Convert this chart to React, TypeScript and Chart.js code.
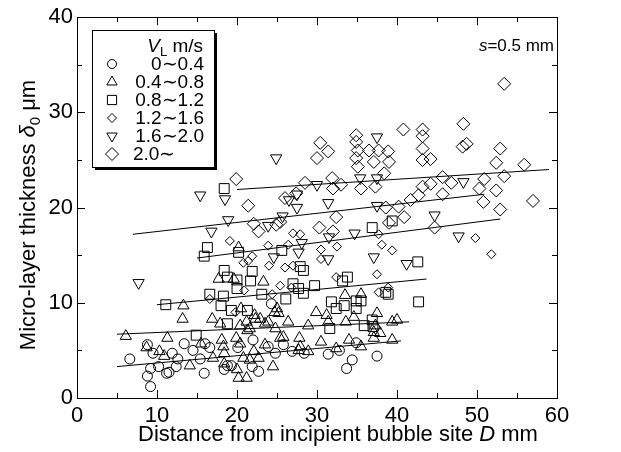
import React, { useEffect, useRef } from 'react';
import { Chart, registerables } from 'chart.js';

Chart.register(...registerables);

// ---------- data ----------
const xTickValues = [0, 10, 20, 30, 40, 50, 60];
const yTickValues = [0, 10, 20, 30, 40];
const seriesLabels = ['0∼0.4', '0.4∼0.8', '0.8∼1.2', '1.2∼1.6', '1.6∼2.0', '2.0∼'];

// V_L 0~0.4 (circles)
const circlePts: number[][] = [
  [6.6, 4.1], [8.8, 5.6], [9.5, 4.7], [9.2, 3.1], [8.8, 2.3], [9.2, 1.2], [10.2, 3.3], [11.2, 2.6],
  [11.5, 2.7], [11.9, 4.7], [12.6, 4.1], [12.4, 3.3], [13.4, 5.7], [14.5, 5.0], [15.4, 4.1], [15.9, 2.6],
  [16.0, 5.7], [16.6, 5.3], [18.4, 3.0], [19.3, 3.4], [18.8, 3.4], [20.1, 5.3], [22.0, 6.1], [21.9, 3.3],
  [22.7, 2.8], [24.3, 9.9], [23.9, 5.4], [24.8, 4.7], [25.8, 5.6], [26.9, 4.9], [28.4, 4.7], [31.4, 4.6],
  [32.8, 5.0], [34.9, 5.8], [34.4, 4.0], [33.7, 3.1], [37.5, 4.4],
];

// V_L 0.4~0.8 (triangles up)
const trianglePts: number[][] = [
  [6.1, 6.5], [8.7, 5.3], [10.3, 4.9], [10.9, 4.4], [11.3, 6.3], [13.2, 8.3], [13.3, 9.7], [14.1, 3.4],
  [15.5, 5.7], [16.9, 8.3], [17.0, 4.2], [17.7, 12.5], [17.9, 7.8], [18.1, 6.1], [18.3, 5.4], [18.4, 4.7],
  [18.4, 3.6], [19.6, 12.5], [19.9, 6.3], [20.0, 3.0], [20.2, 2.1], [21.2, 2.1], [20.2, 15.8], [20.4, 7.6],
  [21.2, 8.0], [21.6, 7.3], [22.3, 8.3], [22.9, 8.3], [22.1, 4.9], [20.8, 4.2], [21.6, 4.0], [22.7, 4.2],
  [24.5, 3.3], [23.5, 7.8], [23.9, 8.0], [24.7, 9.0], [25.2, 8.9], [24.8, 7.3], [25.4, 6.3], [23.5, 5.6],
  [26.4, 8.0], [27.8, 6.3], [27.9, 5.4], [28.9, 4.9], [28.9, 7.6], [29.9, 9.0], [30.5, 5.9], [31.2, 8.7],
  [31.4, 8.0], [22.2, 8.7], [25.0, 9.4], [20.4, 5.7], [20.5, 9.4], [21.3, 7.1], [23.3, 12.2], [25.8, 6.4],
  [27.7, 5.0], [33.5, 10.8], [35.5, 10.9], [32.4, 5.2], [34.0, 6.1], [35.5, 5.4], [37.1, 6.3], [37.1, 6.9],
  [37.3, 7.6], [34.6, 8.5], [33.6, 8.0], [39.4, 8.0], [40.0, 8.2], [39.4, 6.1], [37.5, 8.9], [37.9, 6.8],
];

// V_L 0.8~1.2 (squares)
const squarePts: number[][] = [
  [11.1, 9.8], [14.9, 6.6], [16.3, 15.8], [15.9, 14.9], [16.6, 10.9], [18.0, 9.7], [18.3, 10.7], [18.4, 13.4],
  [18.8, 12.7], [18.8, 7.8], [19.3, 9.2], [18.4, 22.0], [20.0, 12.4], [20.0, 11.5], [20.2, 15.3], [21.9, 13.3],
  [21.7, 12.3], [21.3, 9.2], [23.1, 10.9], [25.6, 15.5], [26.1, 10.4], [27.0, 12.0], [27.7, 11.5], [28.3, 11.0],
  [27.9, 13.8], [28.3, 13.4], [29.7, 11.8], [31.8, 10.1], [32.4, 9.4], [33.4, 9.7], [33.2, 12.3], [33.8, 12.7],
  [34.9, 10.2], [35.5, 10.2], [34.9, 9.4], [31.6, 7.3], [35.9, 7.6], [36.9, 8.2], [37.0, 7.5], [36.9, 17.9],
  [39.4, 18.6], [38.6, 11.1], [38.9, 10.9], [42.6, 14.3], [42.7, 10.1],
];

// V_L 1.2~1.6 (small diamonds)
const smallDiamondPts: number[][] = [
  [16.6, 10.4], [19.8, 9.0], [19.1, 16.5], [20.8, 14.2], [21.9, 14.9], [21.4, 14.4], [27.0, 17.3], [27.9, 17.2],
  [37.7, 17.2], [38.1, 16.1], [39.4, 15.5], [23.9, 16.0], [26.4, 16.1], [30.5, 15.6], [32.5, 15.9], [24.0, 13.9],
  [26.0, 13.7], [27.0, 13.9], [30.5, 14.6], [37.5, 13.0], [32.4, 12.7], [25.4, 11.8], [26.8, 11.6], [20.9, 11.3],
  [24.4, 10.9], [37.7, 11.1], [38.9, 11.6], [49.8, 16.8], [51.8, 15.1],
];

// V_L 1.6~2.0 (triangles down)
const downTrianglePts: number[][] = [
  [7.7, 12.1], [15.4, 21.3], [16.8, 17.5], [18.5, 20.9], [18.9, 18.7], [23.9, 18.1], [24.6, 14.8], [24.9, 25.2],
  [25.7, 19.1], [26.5, 20.8], [27.5, 21.4], [27.5, 20.0], [27.7, 15.3], [28.1, 16.3], [30.0, 22.4], [31.4, 20.5],
  [31.4, 14.6], [31.5, 16.9], [34.7, 17.3], [35.4, 23.1], [37.1, 14.8], [37.5, 20.2], [37.5, 23.1], [37.5, 27.4],
  [41.2, 14.1], [44.7, 19.2], [47.7, 17.0], [48.3, 22.7],
];

// V_L 2.0~ (large diamonds)
const largeDiamondPts: number[][] = [
  [19.9, 23.0], [21.4, 20.2], [22.1, 18.3], [22.7, 17.5], [24.9, 18.2], [25.4, 18.5], [26.0, 21.0], [27.4, 21.5],
  [28.5, 22.6], [30.4, 26.8], [30.0, 25.2], [31.4, 25.9], [30.3, 17.9], [32.0, 17.5], [31.9, 23.1], [32.0, 22.0],
  [33.0, 22.4], [32.4, 19.0], [34.9, 27.6], [34.9, 26.9], [35.1, 26.0], [34.9, 25.2], [35.1, 24.3], [35.5, 22.0],
  [36.5, 26.0], [37.7, 26.0], [37.1, 24.8], [38.4, 23.6], [37.3, 22.2], [38.9, 25.9], [39.0, 24.8], [38.6, 20.0],
  [39.0, 18.4], [40.2, 20.1], [40.8, 28.2], [40.9, 19.0], [41.7, 20.8], [42.7, 21.3], [43.2, 28.2], [43.2, 27.5],
  [43.2, 26.2], [43.2, 25.0], [44.2, 25.1], [43.2, 22.2], [44.2, 22.5], [45.7, 23.2], [46.8, 22.6], [45.7, 21.4],
  [44.7, 17.9], [48.3, 28.8], [48.2, 26.4], [48.7, 26.7], [50.3, 22.0], [50.9, 23.0], [50.8, 20.6], [52.4, 24.7],
  [52.4, 21.8], [52.9, 26.2], [52.9, 19.8], [53.4, 23.3], [53.4, 33.0], [55.9, 24.5], [57.0, 20.7],
];

// fitted lines (end points) for each group
const fitCircle: number[][] = [[5.0, 3.3], [40.5, 6.0]];
const fitTriangle: number[][] = [[5.0, 6.7], [41.5, 8.0]];
const fitSquare: number[][] = [[10.0, 9.8], [43.7, 12.5]];
const fitSmallDiamond: number[][] = [[15.0, 14.7], [52.9, 18.8]];
const fitDownTriangle: number[][] = [[7.0, 17.2], [50.9, 21.4]];
const fitLargeDiamond: number[][] = [[20.0, 21.9], [59.0, 24.0]];

// ---------- drawing helpers ----------
const FONT = "'Liberation Sans', Arial, Helvetica, sans-serif";
const toXY = (p: number[]) => ({ x: p[0], y: p[1] });

type Seg = { t: string; f: string; dy?: number };

function segWidth(ctx: CanvasRenderingContext2D, segs: Seg[]) {
  let w = 0;
  for (const s of segs) {
    ctx.font = s.f;
    w += ctx.measureText(s.t).width;
  }
  return w;
}
function drawSegs(ctx: CanvasRenderingContext2D, segs: Seg[], x: number, y: number) {
  let cx = x;
  for (const s of segs) {
    ctx.font = s.f;
    ctx.fillText(s.t, cx, y + (s.dy || 0));
    cx += ctx.measureText(s.t).width;
  }
}

function drawMarker(ctx: CanvasRenderingContext2D, kind: string, x: number, y: number, r: number) {
  ctx.beginPath();
  if (kind === 'circle') {
    ctx.arc(x, y, r, 0, Math.PI * 2);
  } else if (kind === 'triangle' || kind === 'down') {
    const s = kind === 'down' ? -1 : 1;
    ctx.moveTo(x, y - s * r);
    ctx.lineTo(x + 0.866 * r, y + s * 0.5 * r);
    ctx.lineTo(x - 0.866 * r, y + s * 0.5 * r);
    ctx.closePath();
  } else if (kind === 'rect') {
    const h = r * Math.SQRT1_2;
    ctx.rect(x - h, y - h, 2 * h, 2 * h);
  } else if (kind === 'diamond') {
    ctx.moveTo(x - r, y);
    ctx.lineTo(x, y - r);
    ctx.lineTo(x + r, y);
    ctx.lineTo(x, y + r);
    ctx.closePath();
  }
  ctx.stroke();
}

const legendKinds: [string, number][] = [
  ['circle', 4.5], ['triangle', 6], ['rect', 6.5], ['diamond', 4.5], ['down', 6], ['diamond', 6.5],
];

const framePlugin = {
  id: 'framePlugin',
  afterDraw(chart: any) {
    const { ctx, chartArea: a, scales } = chart;
    const xs = scales.x;
    const ys = scales.y;
    ctx.save();
    ctx.strokeStyle = '#000';
    ctx.fillStyle = '#000';
    ctx.lineWidth = 1;
    // frame
    ctx.strokeRect(Math.round(a.left) + 0.5, Math.round(a.top) + 0.5, Math.round(a.right - a.left), Math.round(a.bottom - a.top));
    // inward ticks on all sides
    ctx.beginPath();
    for (let v = 0; v <= 60; v += 5) {
      const px = Math.round(xs.getPixelForValue(v)) + 0.5;
      const len = v % 10 === 0 ? 8 : 5;
      ctx.moveTo(px, a.bottom);
      ctx.lineTo(px, a.bottom - len);
      ctx.moveTo(px, a.top);
      ctx.lineTo(px, a.top + len);
    }
    for (let v = 0; v <= 40; v += 5) {
      const py = Math.round(ys.getPixelForValue(v)) + 0.5;
      const len = v % 10 === 0 ? 8 : 5;
      ctx.moveTo(a.left, py);
      ctx.lineTo(a.left + len, py);
      ctx.moveTo(a.right, py);
      ctx.lineTo(a.right - len, py);
    }
    ctx.stroke();

    // x title
    ctx.textBaseline = 'alphabetic';
    ctx.textAlign = 'left';
    const xt: Seg[] = [
      { t: 'Distance from incipient bubble site ', f: `22px ${FONT}` },
      { t: 'D', f: `italic 22px ${FONT}` },
      { t: ' mm', f: `22px ${FONT}` },
    ];
    const xw = segWidth(ctx, xt);
    drawSegs(ctx, xt, 338 - xw / 2, 441);

    // y title
    const yt: Seg[] = [
      { t: 'Micro-layer thickness ', f: `22px ${FONT}` },
      { t: 'δ', f: `italic 22px ${FONT}` },
      { t: '0', f: `15px ${FONT}`, dy: 5 },
      { t: ' μm', f: `22px ${FONT}` },
    ];
    const yw = segWidth(ctx, yt);
    ctx.save();
    ctx.translate(35, 215);
    ctx.rotate(-Math.PI / 2);
    drawSegs(ctx, yt, -yw / 2, 0);
    ctx.restore();

    // s = 0.5 mm
    const st: Seg[] = [
      { t: 's', f: `italic 17px ${FONT}` },
      { t: '=0.5 mm', f: `17px ${FONT}` },
    ];
    const sw = segWidth(ctx, st);
    drawSegs(ctx, st, a.right - 3 - sw, 51);

    // legend box with shadow
    const L = 92, T = 30, R = 214, B = 167;
    ctx.fillRect(L + 3, T + 3, R - L, B - T);
    ctx.fillStyle = '#fff';
    ctx.fillRect(L, T, R - L, B - T);
    ctx.strokeRect(L + 0.5, T + 0.5, R - L, B - T);
    ctx.fillStyle = '#000';
    const hd: Seg[] = [
      { t: 'V', f: `italic 19px ${FONT}` },
      { t: 'L', f: `13px ${FONT}`, dy: 4 },
      { t: ' m/s', f: `19px ${FONT}` },
    ];
    const hw = segWidth(ctx, hd);
    drawSegs(ctx, hd, 203 - hw, 52);
    const rowY = [64, 82, 100, 118, 136, 154];
    ctx.textBaseline = 'middle';
    ctx.font = `19px ${FONT}`;
    seriesLabels.forEach((lab, i) => {
      const [kind, r] = legendKinds[i];
      drawMarker(ctx, kind, 112, rowY[i], r);
      if (i === seriesLabels.length - 1) {
        ctx.textAlign = 'left';
        ctx.fillText(lab, 133, rowY[i] + 1);
      } else {
        ctx.textAlign = 'right';
        ctx.fillText(lab, 204, rowY[i] + 1);
      }
    });
    ctx.restore();
  },
};

export default function App() {
  const ref = useRef<HTMLCanvasElement | null>(null);
  useEffect(() => {
    document.body.style.margin = '0';
    const canvas = ref.current;
    if (!canvas) return;
    const lineDs = (pts: number[][]) => ({
      type: 'line' as const,
      data: pts.map(toXY),
      borderColor: '#000',
      borderWidth: 1,
      pointRadius: 0,
      fill: false,
      showLine: true,
    });
    const ptDs = (pts: number[][], style: string, r: number, rotation = 0) => ({
      type: 'scatter' as const,
      data: pts.map(toXY),
      pointStyle: style,
      pointRadius: r,
      pointRotation: rotation,
      borderColor: '#000',
      backgroundColor: 'rgba(0,0,0,0)',
      borderWidth: 1,
      showLine: false,
    });
    const chart = new Chart(canvas, {
      type: 'scatter',
      data: {
        datasets: [
          lineDs(fitCircle),
          lineDs(fitTriangle),
          lineDs(fitSquare),
          lineDs(fitSmallDiamond),
          lineDs(fitDownTriangle),
          lineDs(fitLargeDiamond),
          ptDs(circlePts, 'circle', 5),
          ptDs(trianglePts, 'triangle', 6.5),
          ptDs(squarePts, 'rect', 7),
          ptDs(smallDiamondPts, 'rectRot', 4.5),
          ptDs(downTrianglePts, 'triangle', 6.5, 180),
          ptDs(largeDiamondPts, 'rectRot', 6.5),
        ] as any,
      },
      options: {
        responsive: false,
        animation: false,
        devicePixelRatio: 1,
        layout: { padding: { left: 0, right: 64, top: 16, bottom: 0 } },
        plugins: { legend: { display: false }, tooltip: { enabled: false } },
        scales: {
          x: {
            type: 'linear',
            min: 0,
            max: 60,
            grid: { display: false, drawTicks: false },
            border: { display: false },
            afterBuildTicks: (s: any) => { s.ticks = xTickValues.map((v) => ({ value: v })); },
            ticks: { color: '#000', font: { family: FONT, size: 22 }, padding: 5, maxRotation: 0 },
            afterFit: (s: any) => { s.height = 54; },
          },
          y: {
            type: 'linear',
            min: 0,
            max: 40,
            grid: { display: false, drawTicks: false },
            border: { display: false },
            afterBuildTicks: (s: any) => { s.ticks = yTickValues.map((v) => ({ value: v })); },
            ticks: { color: '#000', font: { family: FONT, size: 22 }, padding: 4 },
            afterFit: (s: any) => { s.width = 77; },
          },
        },
      } as any,
      plugins: [framePlugin],
    });
    return () => chart.destroy();
  }, []);
  return <canvas ref={ref} width={621} height={452} style={{ display: 'block' }} />;
}
